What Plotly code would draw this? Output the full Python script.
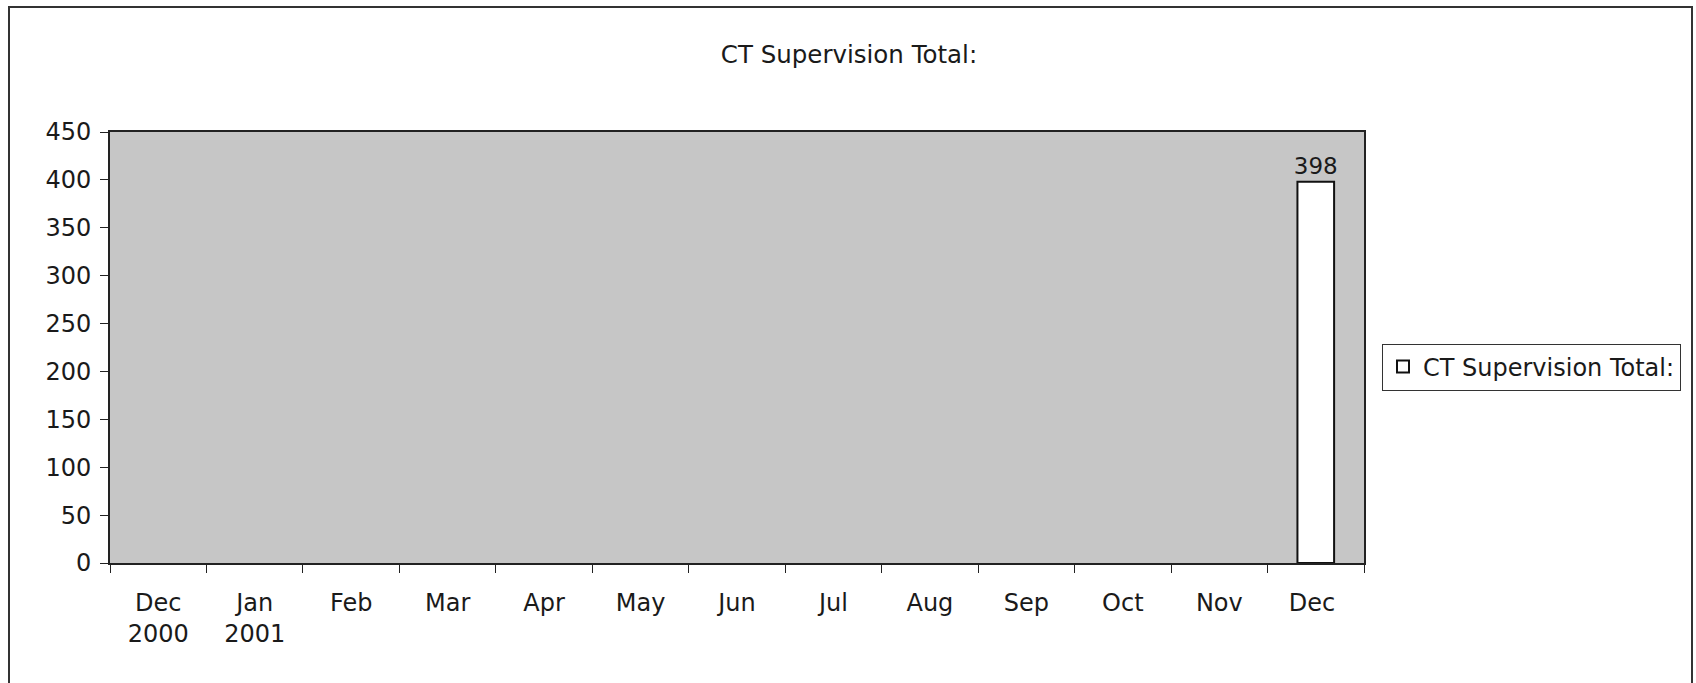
import plotly.graph_objects as go

# ---- data ----
months = ["Dec<br>2000", "Jan<br>2001", "Feb", "Mar", "Apr", "May", "Jun",
          "Jul", "Aug", "Sep", "Oct", "Nov", "Dec "]
values = [None, None, None, None, None, None, None, None, None, None, None, None, 398]
series_name = "CT Supervision Total:"
chart_title = "CT Supervision Total:"
y_ticks = [0, 50, 100, 150, 200, 250, 300, 350, 400, 450]

W, H = 1696, 683
L, R, T, B = 110, 1364, 132, 563
FONT = "DejaVu Sans"
TXT = "#1a1a1a"

fig = go.Figure()
fig.add_trace(go.Bar(
    x=months, y=values, name=series_name,
    marker=dict(color="white", line=dict(color="#111111", width=2)),
    width=0.38,
    text=[("%d" % v) if v is not None else "" for v in values],
    textposition="outside", cliponaxis=False, constraintext="none",
    textfont=dict(family=FONT, size=23, color=TXT),
    showlegend=True,
))

pw, ph = R - L, B - T
def px_x(x):
    return (x - L) / pw
def px_y(y):
    return (B - y) / ph

fig.update_layout(
    width=W, height=H,
    margin=dict(l=L, r=W - R, t=T, b=H - B, autoexpand=False),
    paper_bgcolor="white",
    plot_bgcolor="#c6c6c6",
    font=dict(family=FONT, size=24, color=TXT),
    title=dict(text=chart_title, x=849 / W, xref="container", xanchor="center",
               y=1 - 54 / H, yref="container", yanchor="middle",
               font=dict(family=FONT, size=24.5, color=TXT)),
    showlegend=True,
    legend=dict(x=px_x(1382), y=px_y(367), xanchor="left", yanchor="middle",
                bgcolor="white", bordercolor="#333333", borderwidth=1,
                font=dict(family=FONT, size=24, color=TXT),
                itemwidth=30),
    xaxis=dict(type="category", showgrid=False, zeroline=False,
               showline=True, linecolor="#222222", linewidth=2, mirror=True,
               ticks="outside", ticklen=8, tickcolor="#222222", tickwidth=1,
               tickson="boundaries", ticklabelstandoff=17,
               tickfont=dict(family=FONT, size=24, color=TXT)),
    yaxis=dict(range=[0, 450], tickvals=y_ticks, showgrid=False, zeroline=False,
               showline=True, linecolor="#222222", linewidth=2, mirror=True,
               ticks="outside", ticklen=8, tickcolor="#222222", tickwidth=1,
               ticklabelstandoff=4,
               tickfont=dict(family=FONT, size=24, color=TXT)),
    shapes=[dict(type="rect", xref="paper", yref="paper",
                 x0=px_x(9), x1=px_x(1692), y0=px_y(720), y1=px_y(7),
                 line=dict(color="#333333", width=2), fillcolor="rgba(0,0,0,0)",
                 layer="below")],
)

fig.write_html(
    "out.html",
    config={"displayModeBar": False},
    post_script="document.body.style.margin='0';document.body.style.overflow='hidden';",
)
